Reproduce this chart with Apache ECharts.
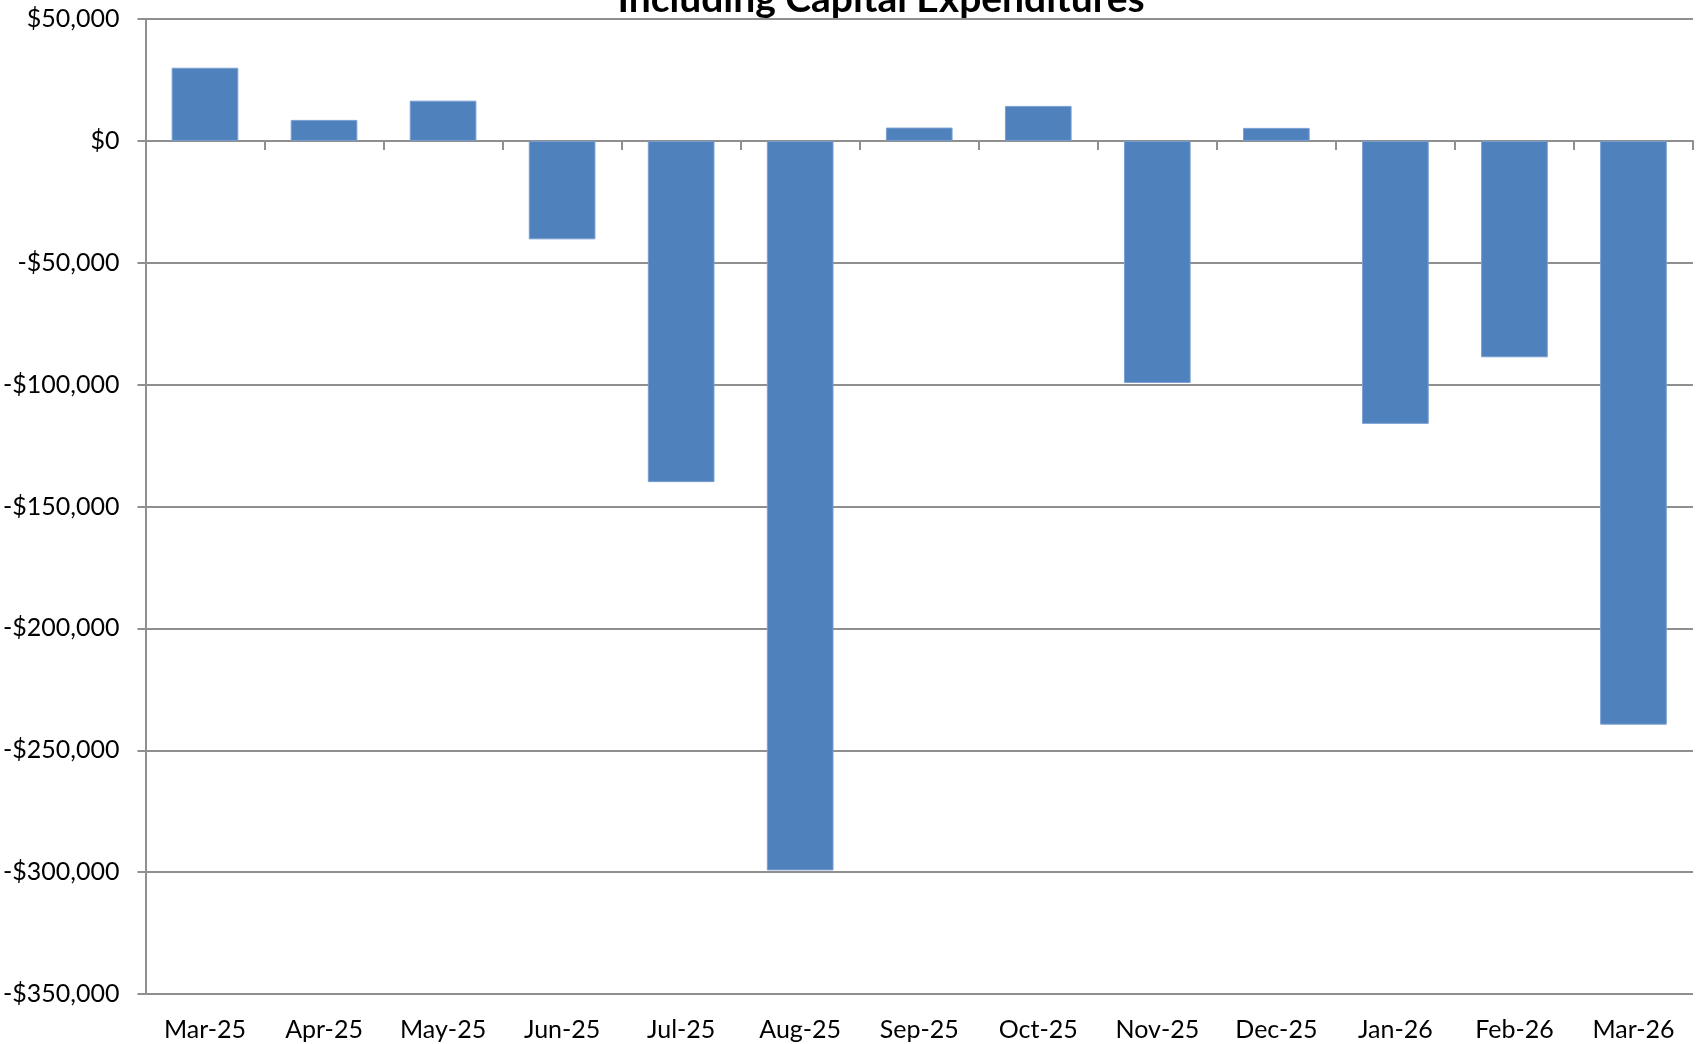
<!DOCTYPE html>
<html>
<head>
<meta charset="utf-8">
<script src="https://cdn.jsdelivr.net/npm/echarts@6/dist/echarts.min.js"></script>
<style>
  html, body { margin: 0; padding: 0; background: #fff; }
  #chart { width: 1696px; height: 1044px; }
</style>
</head>
<body>
<div id="chart"></div>
<script>
// 月份
var months = ['Mar-25', 'Apr-25', 'May-25', 'Jun-25', 'Jul-25', 'Aug-25', 'Sep-25', 'Oct-25', 'Nov-25', 'Dec-25', 'Jan-26', 'Feb-26', 'Mar-26']
// 现金流（含资本支出）
var netCash = [30000, 8600, 16500, -40400, -140000, -299300, 5450, 14350, -99300, 5330, -116100, -88800, -239500]
var yMin = -350000
var yMax = 50000
var yStep = 50000
var titleText = 'Including Capital Expenditures'

var gridColor = '#8f8f8f'
var fontFamily = 'Lato, "Open Sans", sans-serif'

function money (v) {
  var s = Math.abs(v).toLocaleString('en-US')
  return (v < 0 ? '-$' : '$') + s
}

var chartDom = document.getElementById('chart')
var myChart = echarts.init(chartDom)
var option

option = {
  animation: false,
  backgroundColor: '#fff',
  title: {
    text: titleText,
    left: 876,
    top: -25,
    textAlign: 'center',
    textStyle: {
      fontFamily: fontFamily,
      fontWeight: 'bold',
      fontSize: 39,
      color: '#000'
    }
  },
  grid: {
    left: 144,
    right: 3,
    top: 19,
    bottom: 50,
    containLabel: false
  },
  xAxis: [
    {
      // 底部标签
      type: 'category',
      data: months,
      position: 'bottom',
      axisLine: { show: false, onZero: false },
      axisTick: { show: false },
      axisLabel: {
        margin: 23,
        fontSize: 25,
        fontFamily: fontFamily,
        color: '#000'
      }
    },
    {
      // 零线和刻度
      type: 'category',
      data: months,
      position: 'top',
      axisLine: { show: true, onZero: true, lineStyle: { color: gridColor, width: 2 } },
      axisTick: { show: true, inside: true, length: 9, lineStyle: { color: gridColor, width: 2 } },
      axisLabel: { show: false }
    }
  ],
  yAxis: {
    type: 'value',
    min: yMin,
    max: yMax,
    interval: yStep,
    axisLine: { show: true, lineStyle: { color: gridColor, width: 2 } },
    axisTick: { show: true, length: 8, lineStyle: { color: gridColor, width: 2 } },
    splitLine: { show: true, lineStyle: { color: gridColor, width: 2 } },
    axisLabel: {
      margin: 26,
      fontSize: 25,
      fontFamily: fontFamily,
      color: '#000',
      formatter: money
    }
  },
  series: [
    {
      name: 'Net Cash Flow',
      type: 'bar',
      xAxisIndex: 0,
      data: netCash,
      barCategoryGap: '44%',
      itemStyle: {
        color: '#4f81bd',
        borderColor: '#7a9fd0',
        borderWidth: 1
      }
    }
  ]
}

option && myChart.setOption(option)
</script>
</body>
</html>
